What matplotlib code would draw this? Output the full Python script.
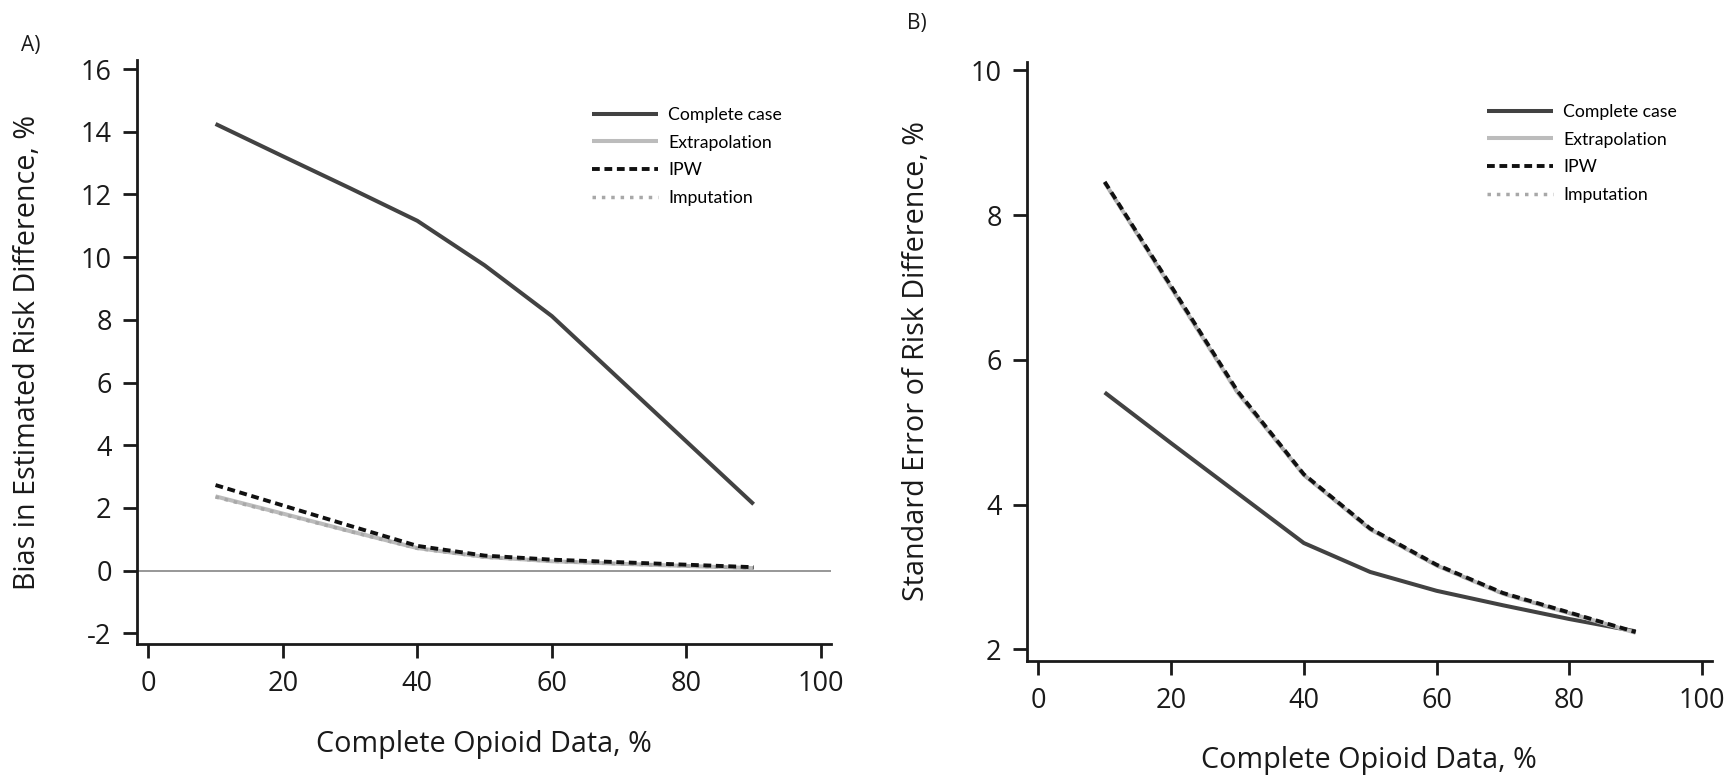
import matplotlib
matplotlib.use("Agg")
import matplotlib.pyplot as plt

# ---- data ----
x_pct = [10, 20, 30, 40, 50, 60, 70, 80, 90]
series_names = ["Complete case", "Extrapolation", "IPW", "Imputation"]

bias_complete = [14.25, 13.22, 12.2, 11.16, 9.74, 8.12, 6.12, 4.12, 2.12]
bias_extrap   = [2.37, 1.82, 1.26, 0.72, 0.44, 0.30, 0.22, 0.15, 0.08]
bias_ipw      = [2.73, 2.08, 1.43, 0.79, 0.48, 0.35, 0.27, 0.19, 0.11]
bias_imput    = [2.35, 1.80, 1.25, 0.71, 0.43, 0.30, 0.22, 0.15, 0.08]

se_complete = [5.55, 4.85, 4.16, 3.47, 3.07, 2.81, 2.61, 2.42, 2.25]
se_extrap   = [8.45, 7.00, 5.55, 4.41, 3.66, 3.16, 2.77, 2.50, 2.23]
se_ipw      = [8.46, 7.02, 5.57, 4.42, 3.67, 3.17, 2.78, 2.51, 2.24]
se_imput    = [8.45, 7.00, 5.55, 4.41, 3.66, 3.16, 2.77, 2.50, 2.23]

x_ticks = [0, 20, 40, 60, 80, 100]
yA_ticks = [-2, 0, 2, 4, 6, 8, 10, 12, 14, 16]
yB_ticks = [2, 4, 6, 8, 10]

xlabel = "Complete Opioid Data, %"
ylabelA = "Bias in Estimated Risk Difference, %"
ylabelB = "Standard Error of Risk Difference, %"

plt.rcParams['font.family'] = ['Open Sans', 'DejaVu Sans']

W, H = 1730, 775
fig = plt.figure(figsize=(W / 100, H / 100), dpi=100)

axA = fig.add_axes([136.7 / W, 1 - 644 / H, (831 - 136.7) / W, (644 - 60) / H])
axB = fig.add_axes([1026.7 / W, 1 - 661 / H, (1712 - 1026.7) / W, (661 - 61.7) / H])

styles = {
    "Complete case": dict(color="#424242", lw=2.9, ls="-", zorder=3),
    "Extrapolation": dict(color="#bcbcbc", lw=2.9, ls="-", zorder=4),
    "Imputation": dict(color="#a8a8a8", lw=2.5, ls=(0, (1, 1.7)), zorder=5),
    "IPW": dict(color="#111111", lw=2.8, ls=(0, (2, 1.2)), zorder=6),
}


def style_axes(ax, yticks, xlim, ylim):
    for s in ["top", "right"]:
        ax.spines[s].set_visible(False)
    for s in ["left", "bottom"]:
        ax.spines[s].set_linewidth(2.0)
        ax.spines[s].set_color("#1a1a1a")
    ax.set_xlim(*xlim)
    ax.set_ylim(*ylim)
    ax.set_xticks(x_ticks)
    ax.set_yticks(yticks)
    ax.set_yticklabels([str(t) for t in yticks])
    ax.tick_params(axis="both", direction="out", length=10, width=2.0,
                   color="#1a1a1a", labelsize=19.5, labelcolor="#1a1a1a")
    ax.tick_params(axis="y", pad=8)
    ax.tick_params(axis="x", pad=9)


def add_legend(ax, handles, x0, ytop):
    fig.legend(handles=handles, labels=series_names, loc="upper left",
               bbox_to_anchor=(x0 / W, 1 - ytop / H), bbox_transform=fig.transFigure,
               frameon=False, borderpad=0, borderaxespad=0, handlelength=3.75,
               handletextpad=0.57, labelspacing=0.66,
               prop=dict(family=["Lato", "DejaVu Sans"], size=12.7))


def draw(ax, data):
    hs = {}
    for name in ["Complete case", "Extrapolation", "Imputation", "IPW"]:
        (h,) = ax.plot(x_pct, data[name], solid_capstyle="butt", dash_capstyle="butt", **styles[name])
        hs[name] = h
    return [hs[n] for n in series_names]


# Panel A
style_axes(axA, yA_ticks, (-1.72, 101.5), (-2.34, 16.29))
axA.axhline(0, color="#8f8f8f", lw=1.3, zorder=2)
hA = draw(axA, {"Complete case": bias_complete, "Extrapolation": bias_extrap,
                "IPW": bias_ipw, "Imputation": bias_imput})
axA.set_xlabel(xlabel, fontsize=20.7, color="#1a1a1a")
axA.set_ylabel(ylabelA, fontsize=20.7, color="#1a1a1a")
axA.xaxis.set_label_coords(0.5, -0.147)
axA.yaxis.set_label_coords(-0.137, 0.5)
add_legend(axA, hA, 592, 107)

# Panel B
style_axes(axB, yB_ticks, (-1.75, 101.5), (1.84, 10.12))
hB = draw(axB, {"Complete case": se_complete, "Extrapolation": se_extrap,
                "IPW": se_ipw, "Imputation": se_imput})
axB.set_xlabel(xlabel, fontsize=20.7, color="#1a1a1a")
axB.set_ylabel(ylabelB, fontsize=20.7, color="#1a1a1a")
axB.xaxis.set_label_coords(0.5, -0.142)
axB.yaxis.set_label_coords(-0.139, 0.5)
add_legend(axB, hB, 1487, 104)

fig.text(21 / W, 1 - 46 / H, "A)", fontsize=15, va="center", ha="left", color="#1a1a1a")
fig.text(907 / W, 1 - 23 / H, "B)", fontsize=15, va="center", ha="left", color="#1a1a1a")

fig.savefig("out.png", dpi=100, facecolor="white")
